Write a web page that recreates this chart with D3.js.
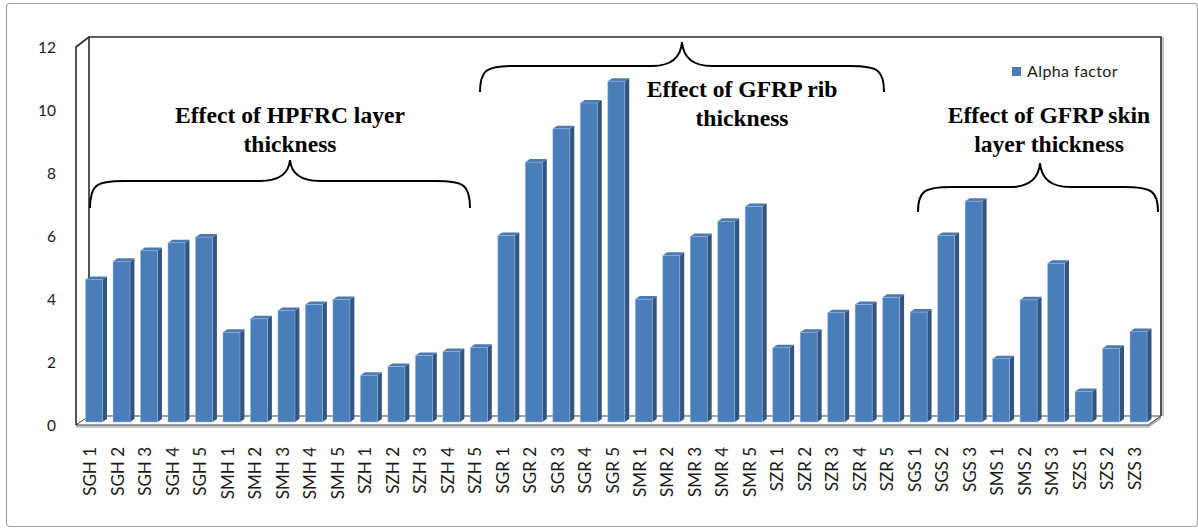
<!DOCTYPE html>
<html>
<head>
<meta charset="utf-8">
<script src="https://cdn.jsdelivr.net/npm/d3@7"></script>
<style>
  html, body { margin: 0; padding: 0; background: #fff; }
  svg { display: block; }
</style>
</head>
<body>
<svg id="chart" width="1198" height="530"></svg>
<script>
// Specimen labels along the x axis
const categories = [
  "SGH 1","SGH 2","SGH 3","SGH 4","SGH 5",
  "SMH 1","SMH 2","SMH 3","SMH 4","SMH 5",
  "SZH 1","SZH 2","SZH 3","SZH 4","SZH 5",
  "SGR 1","SGR 2","SGR 3","SGR 4","SGR 5",
  "SMR 1","SMR 2","SMR 3","SMR 4","SMR 5",
  "SZR 1","SZR 2","SZR 3","SZR 4","SZR 5",
  "SGS 1","SGS 2","SGS 3",
  "SMS 1","SMS 2","SMS 3",
  "SZS 1","SZS 2","SZS 3"
];

// Alpha factor per specimen
const alphaFactor = [
  4.52, 5.10, 5.44, 5.69, 5.87,
  2.85, 3.28, 3.54, 3.73, 3.89,
  1.48, 1.76, 2.11, 2.24, 2.37,
  5.92, 8.25, 9.31, 10.13, 10.82,
  3.90, 5.29, 5.89, 6.37, 6.84,
  2.36, 2.85, 3.47, 3.73, 3.96,
  3.49, 5.92, 7.01,
  2.01, 3.88, 5.04,
  0.97, 2.34, 2.87
];

const seriesName = "Alpha factor";
const yTicks = [0, 2, 4, 6, 8, 10, 12];

// Group annotations: text lines for each brace
const groupLabels = [
  ["Effect of HPFRC layer", "thickness"],
  ["Effect of GFRP rib", "thickness"],
  ["Effect of GFRP skin", "layer thickness"]
];

const svg = d3.select("#chart");

// outer frame
svg.append("rect")
  .attr("x", 6.5).attr("y", 3.5)
  .attr("width", 1191).attr("height", 523)
  .attr("rx", 3)
  .attr("fill", "#fff")
  .attr("stroke", "#a6a6a6")
  .attr("stroke-width", 1.2);

// plot geometry (front plane) and 3D depth of walls
const plotLeft = 76, plotRight = 1148, plotTop = 47, plotBottom = 425;
const depth = { dx: 13, dy: -9 };

const x = d3.scaleBand()
  .domain(categories)
  .range([plotLeft, plotRight])
  .paddingInner(0.38)
  .paddingOuter(0.19);

const y = d3.scaleLinear()
  .domain([0, 12])
  .range([plotBottom, plotTop]);

const backTop = y(12) + depth.dy - 1;

// --- walls and floor ---
const walls = svg.append("g").attr("class", "walls");

// floor slab (front face)
walls.append("polygon")
  .attr("points", [
    [plotLeft, plotBottom], [plotRight, plotBottom], [plotRight, plotBottom + 3], [plotLeft, plotBottom + 3]
  ].join(" "))
  .attr("fill", "#c8c8c8");
walls.append("polygon")
  .attr("points", [
    [plotRight, plotBottom], [plotRight + depth.dx, plotBottom + depth.dy],
    [plotRight + depth.dx, plotBottom + depth.dy + 3], [plotRight, plotBottom + 3]
  ].join(" "))
  .attr("fill", "#b0b0b0");

// floor top
walls.append("polygon")
  .attr("points", [
    [plotLeft, plotBottom], [plotLeft + depth.dx, plotBottom + depth.dy],
    [plotRight + depth.dx, plotBottom + depth.dy], [plotRight, plotBottom]
  ].join(" "))
  .attr("fill", "#fff")
  .attr("stroke", "#404040")
  .attr("stroke-width", 1);

// back wall edges
walls.append("path")
  .attr("d", `M${plotLeft + depth.dx},${plotBottom + depth.dy} L${plotLeft + depth.dx},${backTop} L${plotRight + depth.dx},${backTop} L${plotRight + depth.dx},${plotBottom + depth.dy}`)
  .attr("fill", "none")
  .attr("stroke", "#2b2b2b")
  .attr("stroke-width", 1.6);
walls.append("line")
  .attr("x1", plotRight + depth.dx + 2).attr("x2", plotRight + depth.dx + 2)
  .attr("y1", backTop).attr("y2", plotBottom + depth.dy)
  .attr("stroke", "#8a8a8a").attr("stroke-width", 1);

// side wall edges
walls.append("path")
  .attr("d", `M${plotLeft},${plotBottom} L${plotLeft},${plotTop} L${plotLeft + depth.dx},${backTop}`)
  .attr("fill", "none")
  .attr("stroke", "#2b2b2b")
  .attr("stroke-width", 1.6);

// --- columns ---
const bandDepth = { z0: 0.33, z1: 0.67 }; // column occupies the middle of the depth
const fx = depth.dx * bandDepth.z0, fy = depth.dy * bandDepth.z0;
const cdx = depth.dx * (bandDepth.z1 - bandDepth.z0);
const cdy = depth.dy * (bandDepth.z1 - bandDepth.z0);
const bw = x.bandwidth();

const data = categories.map((c, i) => ({ cat: c, value: alphaFactor[i] }));

const cols = svg.append("g").attr("class", "columns")
  .selectAll("g").data(data).join("g");

cols.append("polygon") // side face
  .attr("points", d => {
    const x0 = x(d.cat) + fx + bw, yt = y(d.value) + fy, yb = y(0) + fy;
    return [[x0, yt], [x0 + cdx, yt + cdy], [x0 + cdx, yb + cdy], [x0, yb]].join(" ");
  })
  .attr("fill", "#31557f");

cols.append("polygon") // top face
  .attr("points", d => {
    const x0 = x(d.cat) + fx, yt = y(d.value) + fy;
    return [[x0, yt], [x0 + cdx, yt + cdy], [x0 + bw + cdx, yt + cdy], [x0 + bw, yt]].join(" ");
  })
  .attr("fill", "#4c79b0");

cols.append("rect") // front face
  .attr("x", d => x(d.cat) + fx)
  .attr("y", d => y(d.value) + fy)
  .attr("width", bw)
  .attr("height", d => y(0) - y(d.value))
  .attr("fill", "#4a7ebb")
  .attr("stroke", "#a9c1e2")
  .attr("stroke-opacity", 0.55)
  .attr("stroke-width", 0.8);

// --- y axis labels ---
const yAxis = d3.axisLeft(y).tickValues(yTicks).tickSize(0).tickPadding(0).tickFormat(d3.format("d"));
const gy = svg.append("g")
  .attr("transform", "translate(56,1)")
  .call(yAxis);
gy.select(".domain").remove();
gy.selectAll("text")
  .attr("font-family", "Lato, 'Open Sans', sans-serif")
  .attr("font-size", 15.5)
  .attr("fill", "#1a1a1a");

// --- x axis labels ---
const xAxis = d3.axisBottom(x).tickSize(0).tickPadding(0);
const gx = svg.append("g")
  .attr("transform", `translate(0,${plotBottom + 22})`)
  .call(xAxis);
gx.select(".domain").remove();
gx.selectAll("text")
  .attr("font-family", "Lato, 'Open Sans', sans-serif")
  .attr("font-size", 17)
  .attr("fill", "#1a1a1a")
  .attr("text-anchor", "end")
  .attr("dy", null)
  .attr("transform", "translate(6.5,0) rotate(-90)");

// --- legend ---
const legend = svg.append("g").attr("transform", "translate(1012,67)");
legend.append("rect")
  .attr("width", 9).attr("height", 9)
  .attr("fill", "#4a7ebb");
legend.append("text")
  .attr("x", 15).attr("y", 10)
  .attr("font-family", "Lato, 'Open Sans', sans-serif")
  .attr("font-size", 16)
  .attr("letter-spacing", 0.4)
  .attr("fill", "#1a1a1a")
  .text(seriesName);

// --- group braces and labels ---
const braceLayout = [
  { x1: 90, x2: 470, yEnd: 208, yH: 181, yT: 160, xc: 290, tx: 290, ty: 123 },
  { x1: 480, x2: 884, yEnd: 92, yH: 66, yT: 42, xc: 682, tx: 742, ty: 97 },
  { x1: 918, x2: 1158, yEnd: 212, yH: 187, yT: 163, xc: 1040, tx: 1049, ty: 123 }
];

function bracePath(b) {
  const r = 34, t = 30;
  return [
    `M${b.x1},${b.yEnd}`,
    `C${b.x1},${b.yH + 4} ${b.x1 + 6},${b.yH} ${b.x1 + r},${b.yH}`,
    `L${b.xc - t},${b.yH}`,
    `Q${b.xc - 2},${b.yH} ${b.xc},${b.yT}`,
    `Q${b.xc + 2},${b.yH} ${b.xc + t},${b.yH}`,
    `L${b.x2 - r},${b.yH}`,
    `C${b.x2 - 6},${b.yH} ${b.x2},${b.yH + 4} ${b.x2},${b.yEnd}`
  ].join(" ");
}

const groups = svg.append("g").attr("class", "groups");
groupLabels.forEach((lines, i) => {
  const b = braceLayout[i];
  groups.append("path")
    .attr("d", bracePath(b))
    .attr("fill", "none")
    .attr("stroke", "#000")
    .attr("stroke-width", 2);
  const t = groups.append("text")
    .attr("x", b.tx).attr("y", b.ty)
    .attr("text-anchor", "middle")
    .attr("font-family", "'Liberation Serif', 'Times New Roman', serif")
    .attr("font-weight", "bold")
    .attr("font-size", 23.6)
    .attr("fill", "#000");
  lines.forEach((ln, j) => {
    t.append("tspan").attr("x", b.tx).attr("dy", j === 0 ? 0 : 29).text(ln);
  });
});
</script>
</body>
</html>
